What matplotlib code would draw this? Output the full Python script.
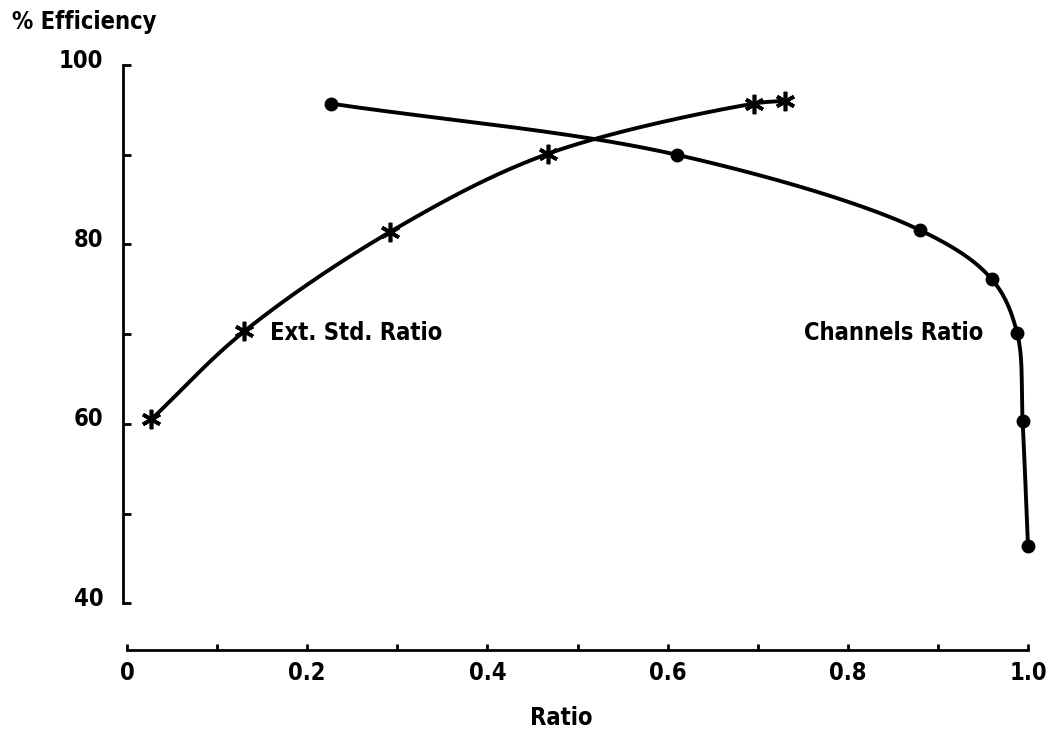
import numpy as np
import matplotlib
matplotlib.use("Agg")
import matplotlib.pyplot as plt
from matplotlib import font_manager as fm
from matplotlib.transforms import ScaledTranslation

# ---- data ----
ext_x = [0.027, 0.130, 0.292, 0.467, 0.696, 0.730]
ext_y = [60.5, 70.3, 81.4, 90.1, 95.7, 96.0]
chan_x = [0.226, 0.610, 0.880, 0.960, 0.988, 0.994, 1.000]
chan_y = [95.7, 90.0, 81.6, 76.1, 70.1, 60.3, 46.4]
x_major = [0, 0.2, 0.4, 0.6, 0.8, 1.0]
x_labels = ["0", "0.2", "0.4", "0.6", "0.8", "1.0"]
x_minor = [0.1, 0.3, 0.5, 0.7, 0.9]
y_major = [40, 60, 80, 100]
y_minor = [50, 70, 90]

# ---- font choice (narrow gothic lettering) ----
ttf = fm.fontManager.ttflist
names = {f.name for f in ttf}
stretch = "normal"
if "Liberation Sans Narrow" in names:
    fam = "Liberation Sans Narrow"
elif any(f.name == "DejaVu Sans" and "Condensed" in f.fname for f in ttf):
    fam, stretch = "DejaVu Sans", "condensed"
else:
    fam = "Roboto"
plt.rcParams["font.family"] = [fam, "DejaVu Sans"]
plt.rcParams["font.stretch"] = stretch
plt.rcParams["font.weight"] = "bold"
FS = 17

W, H = 1055, 731
fig = plt.figure(figsize=(W / 100, H / 100), dpi=100)
ax = fig.add_axes([127 / W, (H - 650) / H, (1028 - 127) / W, (650 - 65) / H])
ax.set_xlim(0, 1.0)
ax.set_ylim(34.8, 100)

for s in ("top", "right"):
    ax.spines[s].set_visible(False)
ax.spines["left"].set_bounds(40, 100)
ax.spines["left"].set_position(("outward", 3))
ax.spines["bottom"].set_bounds(0, 1.0)
for s in ("left", "bottom"):
    ax.spines[s].set_linewidth(2.0)

ax.set_xticks(x_major)
ax.set_xticklabels(x_labels)
ax.set_xticks(x_minor, minor=True)
ax.set_yticks(y_major)
ax.set_yticks(y_minor, minor=True)
ax.tick_params(axis="x", which="both", direction="in", length=4, width=2.0,
               labelsize=FS, pad=8)
ax.tick_params(axis="y", which="both", direction="in", length=6, width=2.0,
               labelsize=FS, pad=14)
for lab in ax.get_yticklabels():
    lab.set_transform(lab.get_transform() + ScaledTranslation(0, 5 / 72, fig.dpi_scale_trans))


def smooth(xs, ys, n=40):
    pts = ax.transData.transform(np.column_stack([xs, ys]))
    P = np.vstack([2 * pts[0] - pts[1], pts, 2 * pts[-1] - pts[-2]])
    out = []
    for i in range(1, len(P) - 2):
        p0, p1, p2, p3 = P[i - 1], P[i], P[i + 1], P[i + 2]
        t0 = 0.0
        t1 = t0 + np.linalg.norm(p1 - p0) ** 0.5
        t2 = t1 + np.linalg.norm(p2 - p1) ** 0.5
        t3 = t2 + np.linalg.norm(p3 - p2) ** 0.5
        for t in np.linspace(t1, t2, n, endpoint=(i == len(P) - 3)):
            a1 = (t1 - t) / (t1 - t0) * p0 + (t - t0) / (t1 - t0) * p1
            a2 = (t2 - t) / (t2 - t1) * p1 + (t - t1) / (t2 - t1) * p2
            a3 = (t3 - t) / (t3 - t2) * p2 + (t - t2) / (t3 - t2) * p3
            b1 = (t2 - t) / (t2 - t0) * a1 + (t - t0) / (t2 - t0) * a2
            b2 = (t3 - t) / (t3 - t1) * a2 + (t - t1) / (t3 - t1) * a3
            out.append((t2 - t) / (t2 - t1) * b1 + (t - t1) / (t2 - t1) * b2)
    out = ax.transData.inverted().transform(np.array(out))
    return out[:, 0], out[:, 1]


sx, sy = smooth(ext_x, ext_y)
ax.plot(sx, sy, color="black", lw=2.8, clip_on=False, solid_capstyle="round")
ax.plot(ext_x, ext_y, linestyle="none", marker=(6, 2, 0), markersize=14,
        mew=2.6, color="black", clip_on=False)

cx, cy = smooth(chan_x, chan_y)
ax.plot(cx, cy, color="black", lw=2.8, clip_on=False, solid_capstyle="round")
ax.plot(chan_x, chan_y, linestyle="none", marker="o", markersize=9,
        color="black", clip_on=False)

ax.text(0.159, 70.1, "Ext. Std. Ratio", ha="left", va="center", fontsize=FS)
ax.text(0.950, 70.1, "Channels Ratio", ha="right", va="center", fontsize=FS)

fig.text(12 / W, 1 - 22 / H, "% Efficiency", ha="left", va="center", fontsize=FS)
fig.text(561 / W, 1 - 718 / H, "Ratio", ha="center", va="center", fontsize=FS)

fig.savefig("out.png", dpi=100)
